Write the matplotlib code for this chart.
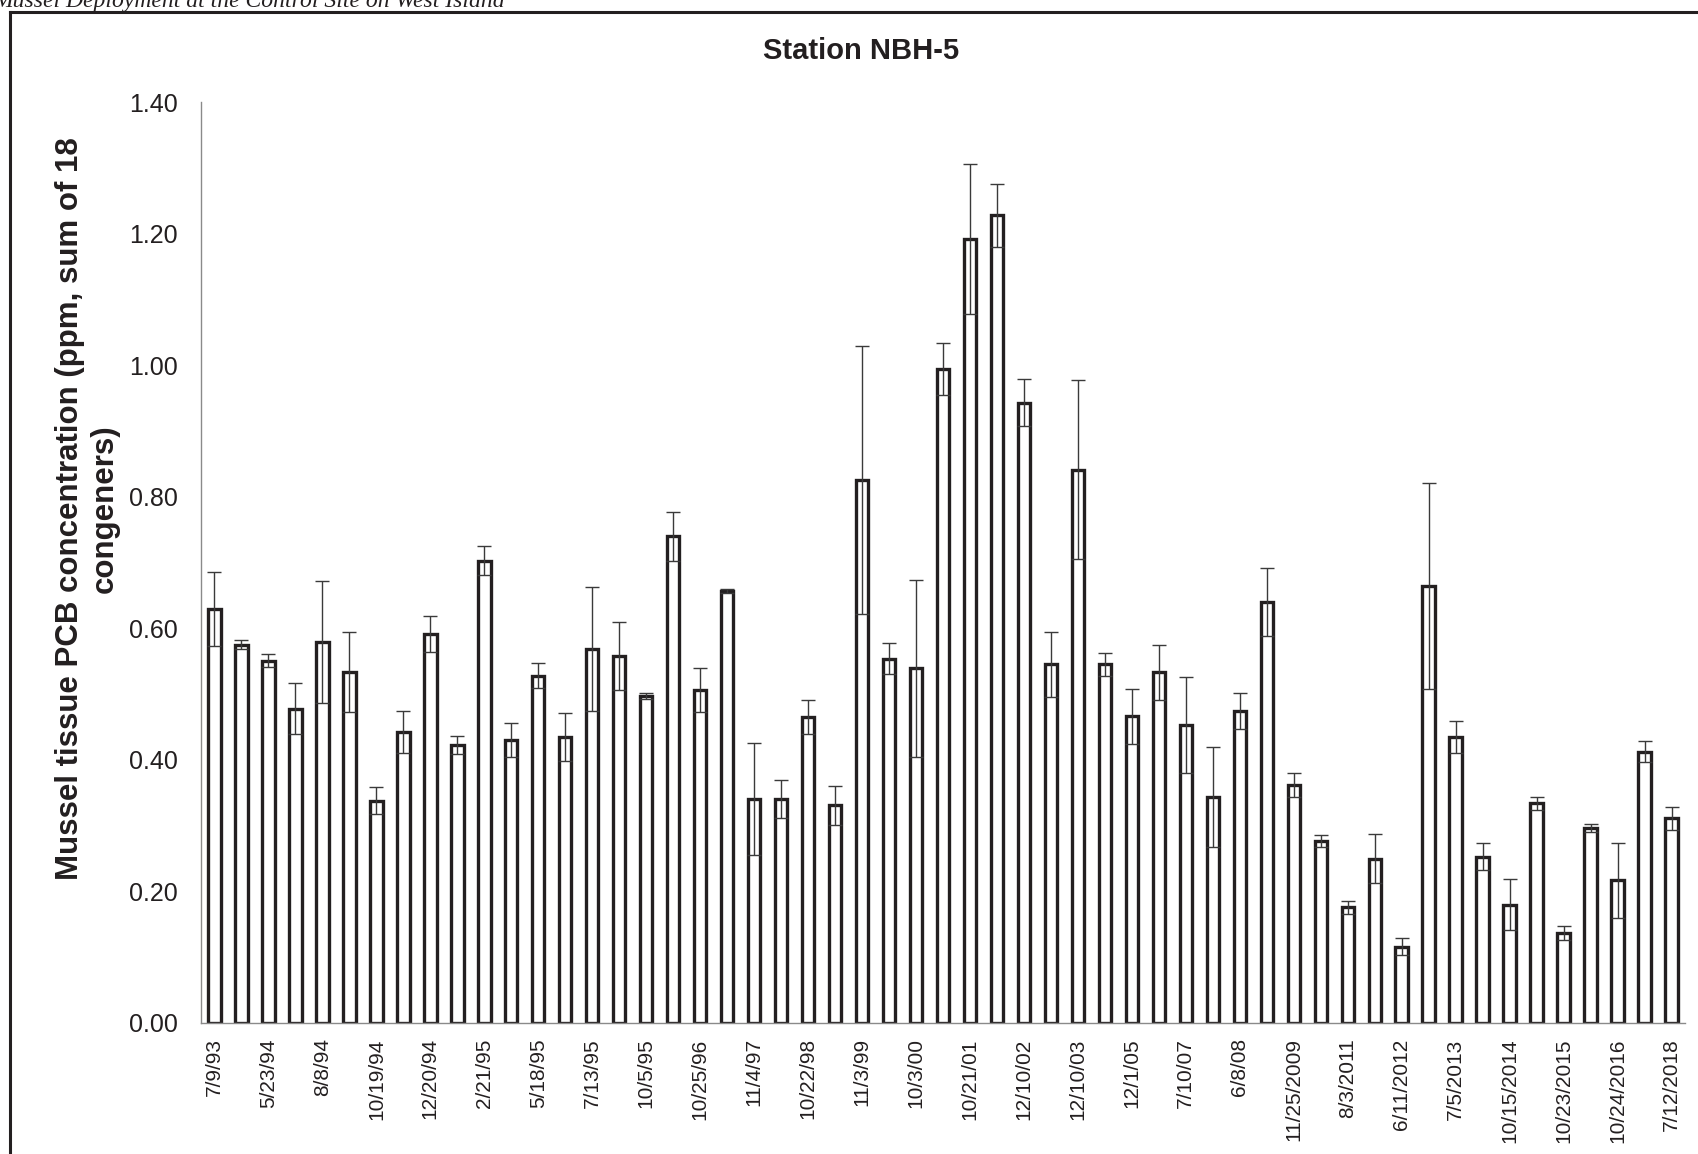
import matplotlib
matplotlib.use("Agg")
import matplotlib.pyplot as plt
from matplotlib.lines import Line2D

plt.rcParams['font.family'] = ['Liberation Sans', 'DejaVu Sans']

# sampling dates (label shown on every other bar)
dates = ['7/9/93', '', '5/23/94', '', '8/8/94', '', '10/19/94', '', '12/20/94', '',
         '2/21/95', '', '5/18/95', '', '7/13/95', '', '10/5/95', '', '10/25/96', '',
         '11/4/97', '', '10/22/98', '', '11/3/99', '', '10/3/00', '', '10/21/01', '',
         '12/10/02', '', '12/10/03', '', '12/1/05', '', '7/10/07', '', '6/8/08', '',
         '11/25/2009', '', '8/3/2011', '', '6/11/2012', '', '7/5/2013', '', '10/15/2014', '',
         '10/23/2015', '', '10/24/2016', '', '7/12/2018']

# mean PCB concentration (ppm)
pcb = [0.629, 0.575, 0.551, 0.478, 0.579, 0.533, 0.338, 0.442, 0.591, 0.423,
       0.703, 0.430, 0.528, 0.435, 0.568, 0.558, 0.497, 0.740, 0.506, 0.656,
       0.340, 0.341, 0.465, 0.331, 0.825, 0.554, 0.539, 0.994, 1.192, 1.228,
       0.943, 0.545, 0.841, 0.545, 0.466, 0.533, 0.453, 0.344, 0.474, 0.640,
       0.362, 0.277, 0.176, 0.250, 0.116, 0.664, 0.435, 0.253, 0.180, 0.334,
       0.137, 0.297, 0.217, 0.412, 0.311]

# error (+/-)
err = [0.056, 0.007, 0.010, 0.039, 0.093, 0.061, 0.021, 0.032, 0.027, 0.014,
       0.022, 0.026, 0.019, 0.036, 0.094, 0.052, 0.004, 0.037, 0.034, 0.003,
       0.085, 0.029, 0.026, 0.030, 0.204, 0.023, 0.134, 0.039, 0.114, 0.048,
       0.036, 0.049, 0.136, 0.018, 0.042, 0.042, 0.073, 0.076, 0.027, 0.051,
       0.018, 0.009, 0.010, 0.037, 0.013, 0.157, 0.024, 0.021, 0.039, 0.010,
       0.011, 0.006, 0.057, 0.016, 0.017]

W, H = 1699, 1154
fig = plt.figure(figsize=(W / 100, H / 100), dpi=100)
ax = fig.add_axes([201 / W, 1 - 1023 / H, (1685 - 201) / W, (1023 - 102) / H])

x = list(range(len(pcb)))
ax.bar(x, pcb, width=0.46, color='white', edgecolor='#231f20', linewidth=2.4, zorder=2)
ax.errorbar(x, pcb, yerr=err, fmt='none', ecolor='#3a3a3a', elinewidth=1.0,
            capsize=5, capthick=1.0, zorder=3)

ax.set_xlim(-0.5, len(pcb) - 0.5)
ax.set_ylim(0, 1.4)
ax.set_yticks([0, 0.2, 0.4, 0.6, 0.8, 1.0, 1.2, 1.4])
ax.set_yticklabels(['%.2f' % v for v in ax.get_yticks()])
ax.set_xticks(x[::2])
ax.set_xticklabels(dates[::2], rotation=90)
ax.tick_params(axis='y', length=0, pad=17, labelsize=18, labelcolor='#231f20')
ax.tick_params(axis='x', length=0, pad=11, labelsize=15, labelcolor='#231f20')

for s in ['top', 'right']:
    ax.spines[s].set_visible(False)
for s in ['left', 'bottom']:
    ax.spines[s].set_color('#8a8a8a')
    ax.spines[s].set_linewidth(1.0)

fig.text(861 / W, 1 - 51 / H, 'Station NBH-5', ha='center', va='center',
         fontsize=21, fontweight='bold', color='#231f20')
fig.text(87 / W, 1 - 509 / H,
         'Mussel tissue PCB concentration (ppm, sum of 18\ncongeners)',
         rotation=90, ha='center', va='center', multialignment='center',
         fontsize=22.5, fontweight='bold', color='#231f20')

# cut-off caption above the framed chart
fig.text(-0.004, 1 - 7 / H, 'Mussel Deployment at the Control Site on West Island',
         ha='left', va='baseline', fontsize=17, style='italic',
         family='Liberation Serif', color='#231f20')

# chart frame (left and top edges)
fig.add_artist(Line2D([10 / W, 10 / W], [0, 1 - 12 / H], transform=fig.transFigure,
                      color='#231f20', linewidth=2.2))
fig.add_artist(Line2D([10 / W, 1], [1 - 12 / H, 1 - 12 / H], transform=fig.transFigure,
                      color='#231f20', linewidth=2.2))

fig.savefig('out.png', dpi=100)
